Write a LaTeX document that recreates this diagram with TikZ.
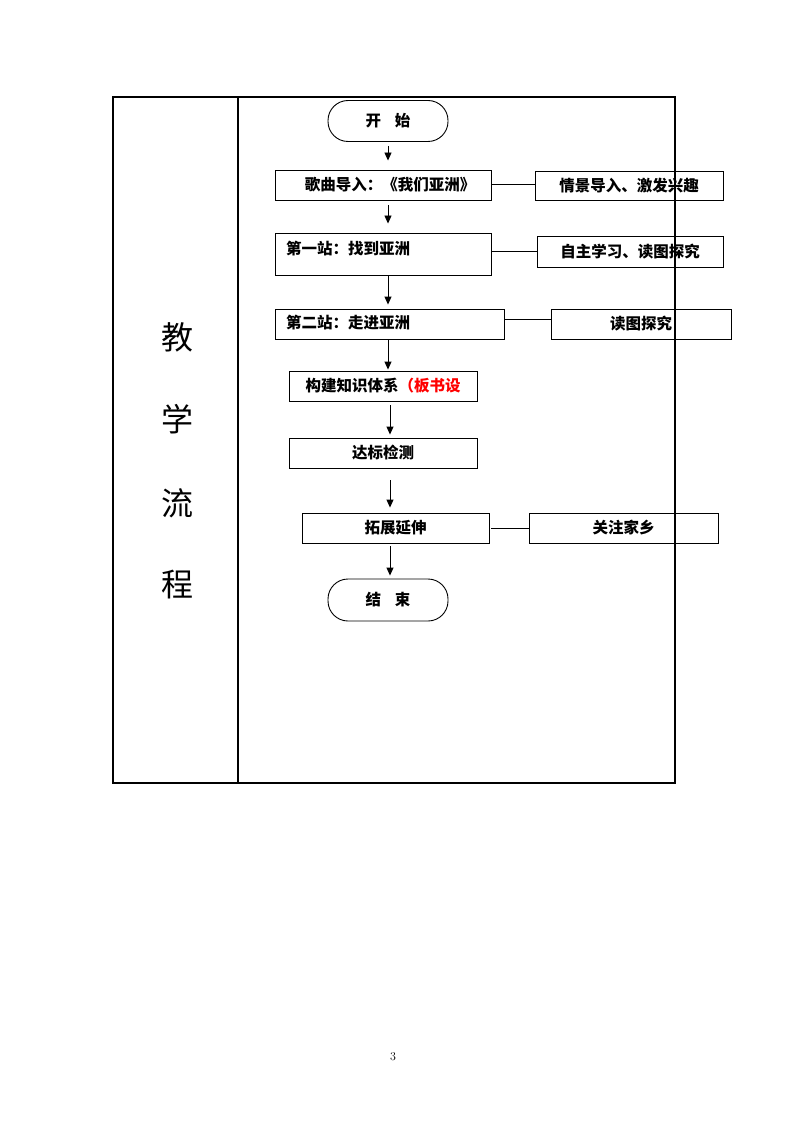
\documentclass[tikz,border=0pt]{standalone}
\usepackage{fontspec}
\newfontfamily\cjk{Noto Sans CJK SC}
\usetikzlibrary{arrows.meta}
\begin{document}
\begin{tikzpicture}[x=1pt,y=-1pt,
  box/.style={draw, line width=0.9pt, rectangle, inner sep=0pt, font=\cjk\bfseries\fontsize{15.5}{19}\selectfont},
  term/.style={box, rounded corners=20pt, minimum width=120pt, minimum height=41pt},
  txt/.style={inner sep=0pt, font=\cjk\bfseries\fontsize{15.5}{19}\selectfont},
  big/.style={inner sep=0pt, font=\cjk\fontsize{32}{36}\selectfont},
  arr/.style={-{Triangle[length=8pt,width=7pt]}, line width=0.9pt},
  link/.style={line width=0.9pt},
  frame/.style={line width=1.2pt}]
\fill[white] (0,0) rectangle (794,1123);
\useasboundingbox (0,0) rectangle (794,1123);
% table
\draw[frame] (113,97) rectangle (675,783);
\draw[frame] (238,97) -- (238,783);
\node[big] (c1) at (177,337) {教};
\node[big] (c2) at (177,419) {学};
\node[big] (c3) at (177,503) {流};
\node[big] (c4) at (177,585) {程};
% flow nodes
\node[term] (start) at (388,121) {开\hspace{0.9em}始};
\node[box, minimum width=216pt, minimum height=30pt] (s0) at (383,185) {\hspace*{14pt}歌曲导入：《我们亚洲》};
\node[box, minimum width=188pt, minimum height=29pt] (r0) at (629,185.5) {情景导入、激发兴趣};
\node[box, minimum width=216pt, minimum height=42pt] (s1) at (383,254) {};
\node[txt, anchor=west] (s1t) at (286,249) {第一站：找到亚洲};
\node[box, minimum width=186pt, minimum height=31pt] (r1) at (630,251.5) {自主学习、读图探究};
\node[box, minimum width=229pt, minimum height=30pt] (s2) at (389.5,324) {};
\node[txt, anchor=west] (s2t) at (286,323) {第二站：走进亚洲};
\node[box, minimum width=180pt, minimum height=30pt] (r2) at (641,324) {读图探究};
\node[box, minimum width=188pt, minimum height=30pt] (s3) at (383,386) {构建知识体系\textcolor{red}{（板书设}};
\node[box, minimum width=188pt, minimum height=30pt] (s4) at (383,453) {达标检测};
\node[box, minimum width=187pt, minimum height=30pt] (s5) at (395.5,528) {拓展延伸};
\node[box, minimum width=189pt, minimum height=30pt] (r5) at (623.5,528) {关注家乡};
\node[term, minimum height=42pt] (end) at (388,600) {结\hspace{0.9em}束};
\coordinate (ax) at (390,0);
% arrows
\draw[arr, shorten <=4pt, shorten >=9pt] (start.south) -- (start.south |- s0.north);
\draw[arr, shorten <=5pt, shorten >=9pt] (s0.south -| start) -- (s1.north -| start);
\draw[arr, shorten >=4pt] (s1.south -| start) -- (s2.north -| start);
\draw[arr, shorten >=1pt] (s2.south -| start) -- (s3.north -| start);
\draw[arr, shorten <=4pt, shorten >=3pt] (s3.south -| ax) -- (s4.north -| ax);
\draw[arr, shorten <=12pt, shorten >=5pt] (s4.south -| ax) -- (s5.north -| ax);
\draw[arr, shorten <=3pt, shorten >=3pt] (s5.south -| ax) -- (end.north -| ax);
% side links
\draw[link] ([yshift=1pt]s0.east) -- ([yshift=1pt]s0.east -| r0.west);
\draw[link] (r1.west -| s1.east) -- (r1.west);
\draw[link] ([yshift=5pt]s2.east) -- ([yshift=5pt]s2.east -| r2.west);
\draw[link] ([xshift=2pt]s5.east) -- (r5.west);
% page number
\node[inner sep=0pt, font=\fontsize{12}{14}\selectfont] (pg) at (393,1057) {3};
\end{tikzpicture}
\end{document}
